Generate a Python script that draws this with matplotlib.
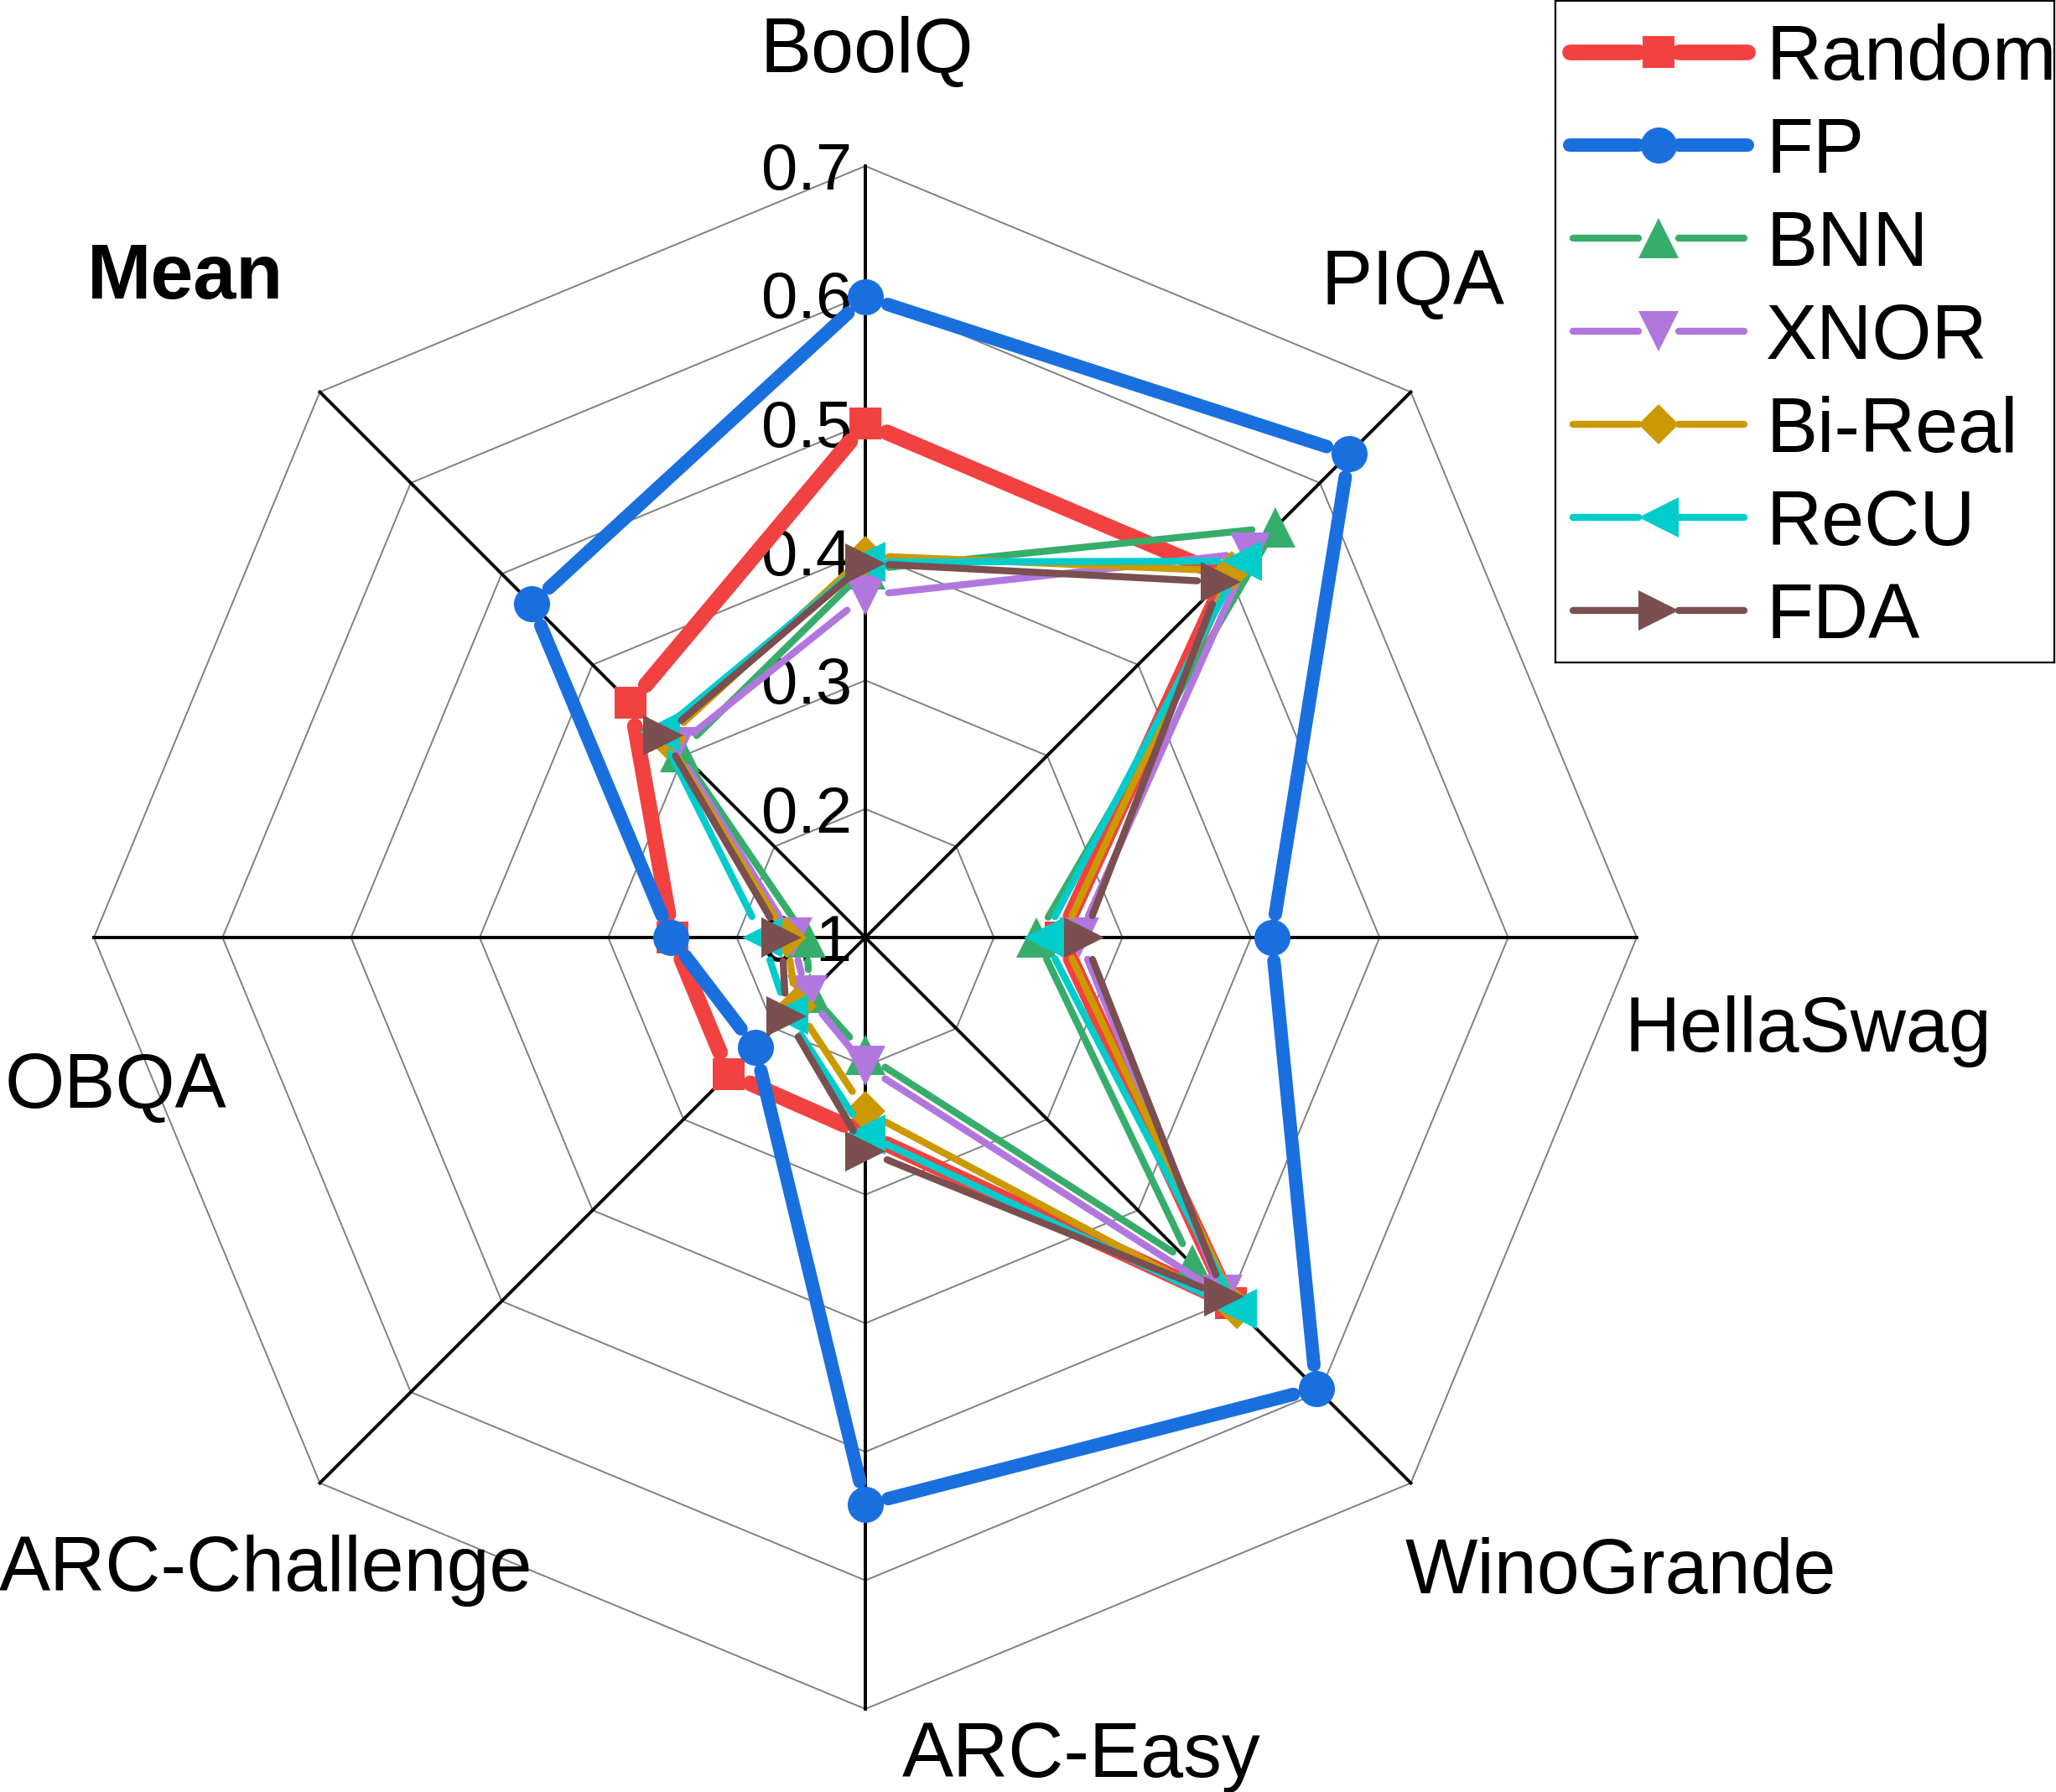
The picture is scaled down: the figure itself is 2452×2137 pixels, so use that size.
import numpy as np
import matplotlib.pyplot as plt

plt.rcParams['font.family'] = ['Liberation Sans', 'DejaVu Sans']

# figure / radar geometry (pixels)
W, H = 2452, 2137
CX, CY = 1032, 1118
PX_PER_UNIT = 920 / 0.6
R_MIN = 0.1
GAP = 28 / PX_PER_UNIT  # lines stop short of the markers

tasks = ['BoolQ', 'PIQA', 'HellaSwag', 'WinoGrande', 'ARC-Easy',
         'ARC-Challenge', 'OBQA', 'Mean']
rings = [0.2, 0.3, 0.4, 0.5, 0.6, 0.7]
tick_labels = ['0.1', '0.2', '0.3', '0.4', '0.5', '0.6', '0.7']

methods = ['Random', 'FP', 'BNN', 'XNOR', 'Bi-Real', 'ReCU', 'FDA']
random_acc = [0.500, 0.497, 0.252, 0.502, 0.253, 0.250, 0.250, 0.358]
fp_acc = [0.598, 0.632, 0.416, 0.596, 0.541, 0.221, 0.251, 0.467]
bnn_acc = [0.386, 0.551, 0.233, 0.460, 0.191, 0.161, 0.146, 0.304]
xnor_acc = [0.366, 0.523, 0.266, 0.493, 0.200, 0.164, 0.157, 0.309]
bireal_acc = [0.397, 0.503, 0.253, 0.509, 0.235, 0.176, 0.161, 0.319]
recu_acc = [0.392, 0.514, 0.239, 0.509, 0.253, 0.185, 0.180, 0.326]
fda_acc = [0.391, 0.491, 0.270, 0.495, 0.266, 0.187, 0.165, 0.322]
all_acc = [random_acc, fp_acc, bnn_acc, xnor_acc, bireal_acc, recu_acc, fda_acc]

colors = ['#F24141', '#1A6FDF', '#37AD6B', '#B177DE', '#CC9900', '#00CCCC', '#7B4F4F']
markers = ['s', 'o', '^', 'v', 'D', '<', '>']
msizes = [27, 31, 34, 34, 24, 34, 34]
lwidths = [13.5, 11.5, 6.0, 6.0, 6.0, 6.0, 6.0]

theta = np.arange(len(tasks)) * 2 * np.pi / len(tasks)


def to_xy(vals):
    rho = np.asarray(vals) - R_MIN
    return rho * np.sin(theta), rho * np.cos(theta)


def gapped_loop(x, y, gap):
    xs, ys = [], []
    n = len(x)
    for i in range(n):
        p = np.array([x[i], y[i]])
        q = np.array([x[(i + 1) % n], y[(i + 1) % n]])
        d = q - p
        L = np.hypot(*d)
        if L <= 2 * gap:
            continue
        u = d / L
        a, b = p + gap * u, q - gap * u
        xs += [a[0], b[0], np.nan]
        ys += [a[1], b[1], np.nan]
    return xs, ys


fig = plt.figure(figsize=(W / 100, H / 100), dpi=100)
ax = fig.add_axes([0, 0, 1, 1])
ax.set_xlim(-CX / PX_PER_UNIT, (W - CX) / PX_PER_UNIT)
ax.set_ylim(-(H - CY) / PX_PER_UNIT, CY / PX_PER_UNIT)
ax.axis('off')

# octagon grid
for r in rings:
    gx, gy = to_xy([r] * len(tasks))
    ax.plot(np.append(gx, gx[0]), np.append(gy, gy[0]), color='#808080', lw=1.4, zorder=1)
ox, oy = to_xy([rings[-1]] * len(tasks))
for i in range(len(tasks)):
    ax.plot([0, ox[i]], [0, oy[i]], color='black', lw=2.8, zorder=1.5)

# radial tick labels
for i, lab in enumerate(tick_labels):
    yv = i * 0.1 - 28 / PX_PER_UNIT
    ax.text(-16 / PX_PER_UNIT, yv, lab, fontsize=56, ha='right', va='baseline', zorder=2)

# data
for k, vals in enumerate(all_acc):
    x, y = to_xy(vals)
    gx, gy = gapped_loop(x, y, GAP)
    ax.plot(gx, gy, color=colors[k], lw=lwidths[k], solid_capstyle='round', zorder=3 + 2 * k)
    ax.plot(x, y, ls='none', marker=markers[k], ms=msizes[k], color=colors[k],
            mew=0, zorder=4 + 2 * k)

# axis labels (pixel positions: centre x, baseline y)
label_pos = [(1034, 86), (1685, 363), (2156, 1254), (1933, 1900),
             (1290, 2119), (317, 1897), (138, 1321), (221, 356)]
for name, (px, py) in zip(tasks, label_pos):
    fig.text(px / W, 1 - py / H, name, fontsize=66, ha='center', va='baseline',
             fontweight='bold' if name == 'Mean' else 'normal')

# legend drawn by hand so the lines break around the markers
lx0, ly0, lx1, ly1 = 1855, 1, 2450, 790
lax = fig.add_axes([lx0 / W, 1 - ly1 / H, (lx1 - lx0) / W, (ly1 - ly0) / H])
lax.set_xlim(lx0, lx1)
lax.set_ylim(ly1, ly0)
lax.set_xticks([])
lax.set_yticks([])
for s in lax.spines.values():
    s.set_linewidth(1.6)
for k, name in enumerate(methods):
    yy = 62 + 111 * k
    xm = 1978
    x_start = 1872 if k < 2 else 1876
    x_end = 2084 if k < 2 else 2080
    lax.plot([x_start, xm - 24], [yy, yy], color=colors[k], lw=lwidths[k], solid_capstyle='round')
    lax.plot([xm + 24, x_end], [yy, yy], color=colors[k], lw=lwidths[k], solid_capstyle='round')
    lax.plot([xm], [yy], marker=markers[k], ms=msizes[k], color=colors[k], mew=0)
    lax.text(2106, yy + 33, name, fontsize=66, ha='left', va='baseline')

fig.savefig('out.png', dpi=100)
